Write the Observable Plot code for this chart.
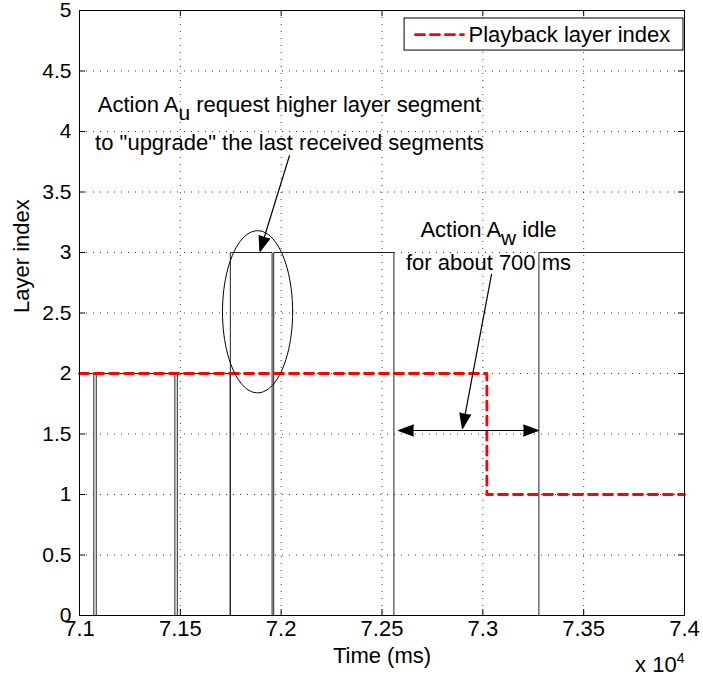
<!DOCTYPE html>
<html>
<head>
<meta charset="utf-8">
<script src="https://cdn.jsdelivr.net/npm/d3@7"></script>
<script src="https://cdn.jsdelivr.net/npm/@observablehq/plot@0.6"></script>
<style>
  html, body { margin: 0; padding: 0; background: #fff; }
  #chart { width: 703px; height: 678px; }
  svg { font-family: "Liberation Sans", Arial, sans-serif; }
</style>
</head>
<body>
<div id="chart"></div>
<script>
// ---- data ----
const xTicks = [71000, 71500, 72000, 72500, 73000, 73500, 74000];
const yTicks = [0, 0.5, 1, 1.5, 2, 2.5, 3, 3.5, 4, 4.5, 5];

// received segment layer (step-after)
const segTimes  = [71000, 71071, 71083, 71473, 71485, 71747, 71748, 71955, 71963, 72559, 73278, 74000];
const segLayers = [2,     0,     2,     0,     2,     0,     3,     0,     3,     0,     3,     3];

// playback layer index (step-after)
const pbTimes  = [71000, 73020, 74000];
const pbLayers = [2,     1,     1];

const legendLabel = "Playback layer index";
const annoTextU = ["Action A_u request higher layer segment", "to \"upgrade\" the last received segments"];
const annoTextW = ["Action A_w idle", "for about 700 ms"];

// ---- tables ----
const seg = segTimes.map((t, i) => ({t, v: segLayers[i]}));
const pb = pbTimes.map((t, i) => ({t, v: pbLayers[i]}));

// ellipse annotation around the upgrade
const ell = {cx: 71883, cy: 2.51, rx: 174, ry: 0.67};
const ellPts = d3.range(0, 361, 4).map(a => ({
  t: ell.cx + ell.rx * Math.cos(a * Math.PI / 180),
  v: ell.cy + ell.ry * Math.sin(a * Math.PI / 180)
}));

const arrows = [
  {x1: 72041, y1: 3.80, x2: 71895, y2: 3.01},
  {x1: 73043, y1: 2.82, x2: 72899, y2: 1.545},
  {x1: 72929, y1: 1.529, x2: 72582, y2: 1.529},
  {x1: 72929, y1: 1.529, x2: 73276, y2: 1.529}
];

const texts = [
  {t: 72041, v: 4.223, s: annoTextU[0]},
  {t: 72041, v: 3.909, s: annoTextU[1]},
  {t: 73028, v: 3.19, s: annoTextW[0]},
  {t: 73028, v: 2.917, s: annoTextW[1]}
];

const FS = 22;

const plot = Plot.plot({
  width: 703,
  height: 678,
  marginLeft: 79,
  marginRight: 19,
  marginTop: 10,
  marginBottom: 63,
  style: {fontFamily: "Liberation Sans, Arial, sans-serif", fontSize: FS + "px", color: "#000", background: "#fff"},
  x: {domain: [71000, 74000]},
  y: {domain: [0, 5]},
  marks: [
    Plot.gridX(xTicks, {stroke: "#000", strokeOpacity: 0.75, strokeDasharray: "1,6"}),
    Plot.gridY(yTicks, {stroke: "#000", strokeOpacity: 0.75, strokeDasharray: "1,6"}),
    // inward ticks
    Plot.ruleX(xTicks, {y1: 0, y2: 0.05, stroke: "#000"}),
    Plot.ruleX(xTicks, {y1: 5, y2: 4.95, stroke: "#000"}),
    Plot.ruleY(yTicks, {x1: 71000, x2: 71030, stroke: "#000"}),
    Plot.ruleY(yTicks, {x1: 74000, x2: 73970, stroke: "#000"}),
    Plot.axisX({ticks: xTicks, tickSize: 0, tickPadding: 5, tickFormat: d => String(d / 1e4), fontSize: FS, label: null}),
    Plot.axisY({ticks: yTicks, tickSize: 0, tickPadding: 8, tickFormat: d => String(d), fontSize: 21, label: null}),
    // data lines
    Plot.line(seg, {x: "t", y: "v", curve: "step-after", stroke: "#222", strokeWidth: 1}),
    Plot.line(pb, {x: "t", y: "v", curve: "step-after", stroke: "#ff0000", strokeWidth: 2.8, strokeDasharray: "9,6"}),
    // annotations
    Plot.line(ellPts, {x: "t", y: "v", stroke: "#000", strokeWidth: 1}),
    Plot.arrow(arrows, {x1: "x1", y1: "y1", x2: "x2", y2: "y2", stroke: "#000", fill: "#000", strokeWidth: 1.2, headLength: 20, headAngle: 40}),
    Plot.text(texts, {x: "t", y: "v", text: "s", fontSize: FS, fill: "#000", textAnchor: "middle"}),
    // legend
    Plot.rect([{x1: 72612, x2: 73995, y1: 4.669, y2: 4.934}], {x1: "x1", x2: "x2", y1: "y1", y2: "y2", fill: "#fff", stroke: "#000", strokeWidth: 1}),
    Plot.line([{t: 72666, v: 4.80}, {t: 72904, v: 4.80}], {x: "t", y: "v", stroke: "#ff0000", strokeWidth: 2.8, strokeDasharray: "9,6"}),
    Plot.text([legendLabel], {x: 72929, y: 4.80, text: d => d, textAnchor: "start", fontSize: FS, fill: "#000"}),
    // axis labels
    Plot.text(["Layer index"], {frameAnchor: "left", rotate: -90, dx: -58, fontSize: FS, fill: "#000"}),
    Plot.text(["Time (ms)"], {frameAnchor: "bottom", dy: 47, fontSize: FS, fill: "#000"}),
    Plot.text(["x 10^4"], {x: 74000, y: 0, dy: 49, textAnchor: "end", fontSize: FS, fill: "#000"}),
    Plot.frame({stroke: "#000", strokeWidth: 1})
  ]
});

// subscripts / superscripts
d3.select(plot).selectAll("text").each(function() {
  const el = this;
  const txt = el.textContent;
  const m = txt.match(/^(.*?)([_^])(\w)(.*)$/);
  if (!m) return;
  const sel = d3.select(el);
  sel.text(null);
  sel.append("tspan").text(m[1]);
  const sub = m[2] === "_";
  sel.append("tspan").attr("dy", sub ? 8 : -9).attr("font-size", sub ? FS * 0.95 : 14).text(m[3]);
  if (m[4]) sel.append("tspan").attr("dy", sub ? -8 : 9).text(m[4]);
});

document.getElementById("chart").appendChild(plot);
</script>
</body>
</html>
